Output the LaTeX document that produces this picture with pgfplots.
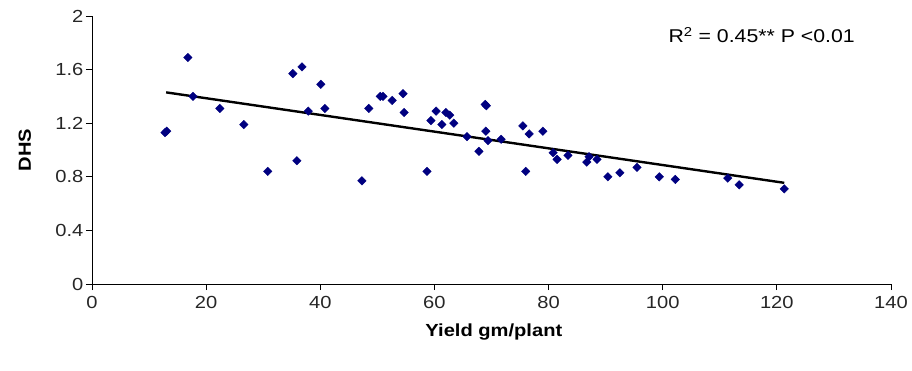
\documentclass[border=0pt]{standalone}
\usepackage{pgfplots}
\pgfplotsset{compat=1.18}
\usepackage{fontspec}
\setmainfont{Liberation Sans}[FakeStretch=1.15]
\definecolor{navy}{HTML}{000080}
\begin{document}
\begin{tikzpicture}[x=1pt,y=1pt]
\begin{axis}[
  scale only axis,
  width=799pt, height=268pt,
  xmin=0, xmax=140, ymin=0, ymax=2,
  xtick={0,20,...,140},
  ytick={0,0.4,0.8,1.2,1.6,2},
  axis x line*=bottom, axis y line*=left,
  axis line style={black, line width=0.9pt, -},
  tick align=outside,
  major tick length=6pt,
  tick style={black, line width=0.9pt},
  /pgf/number format/assume math mode=true,
  yticklabel style={/pgf/number format/fixed, /pgf/number format/precision=1, font=\fontsize{17.5}{19}\selectfont, color=black!85, xshift=1pt},
  xticklabel style={font=\fontsize{17.5}{19}\selectfont, color=black!85, yshift=-3pt},
  xlabel={\textbf{Yield gm/plant}},
  ylabel={\textbf{DHS}},
  xlabel style={font=\fontsize{17.5}{19}\selectfont, at={(rel axis cs:0.503,-0.179)}, anchor=center},
  ylabel style={font=\fontsize{17.5}{19}\selectfont, at={(rel axis cs:-0.0839,0.5)}, anchor=center},
  clip=false,
]
\addplot[only marks, mark=square*, mark size=3pt, navy, mark options={fill=navy, draw=navy, rotate=45}] coordinates {
(12.8,1.13) (13.1,1.14) (16.8,1.69) (17.7,1.40) (22.4,1.31) (26.6,1.19)
(30.8,0.84) (35.2,1.57) (36.8,1.62) (35.9,0.92) (37.9,1.29) (40.1,1.49)
(40.8,1.31) (47.3,0.77) (48.5,1.31) (50.5,1.40) (51.0,1.40) (52.6,1.37)
(54.5,1.42) (54.7,1.28) (58.7,0.84) (59.4,1.22) (60.3,1.29) (61.3,1.19)
(62.0,1.28) (62.7,1.26) (63.4,1.20) (65.7,1.10) (67.8,0.99) (68.9,1.34)
(69.1,1.33) (69.0,1.14) (69.4,1.07) (71.7,1.08) (75.5,1.18) (76.0,0.84)
(76.6,1.12) (79.0,1.14) (80.8,0.98) (81.5,0.93) (83.4,0.96) (86.7,0.91)
(87.1,0.95) (88.5,0.93) (90.4,0.80) (92.5,0.83) (95.5,0.87) (99.4,0.80)
(102.2,0.78) (111.4,0.79) (113.4,0.74) (121.3,0.71)
};
\addplot[black, line width=2.4pt] coordinates {(13,1.43) (121.3,0.755)};
\node[anchor=west, font=\fontsize{18.5}{20}\selectfont, inner sep=0pt] at (axis cs:101,1.86) {R\textsuperscript{2} = 0.45** P <0.01};
\path (rel axis cs:-0.1151,-0.3246) rectangle (rel axis cs:1.0263,1.0597);
\end{axis}
\end{tikzpicture}
\end{document}
